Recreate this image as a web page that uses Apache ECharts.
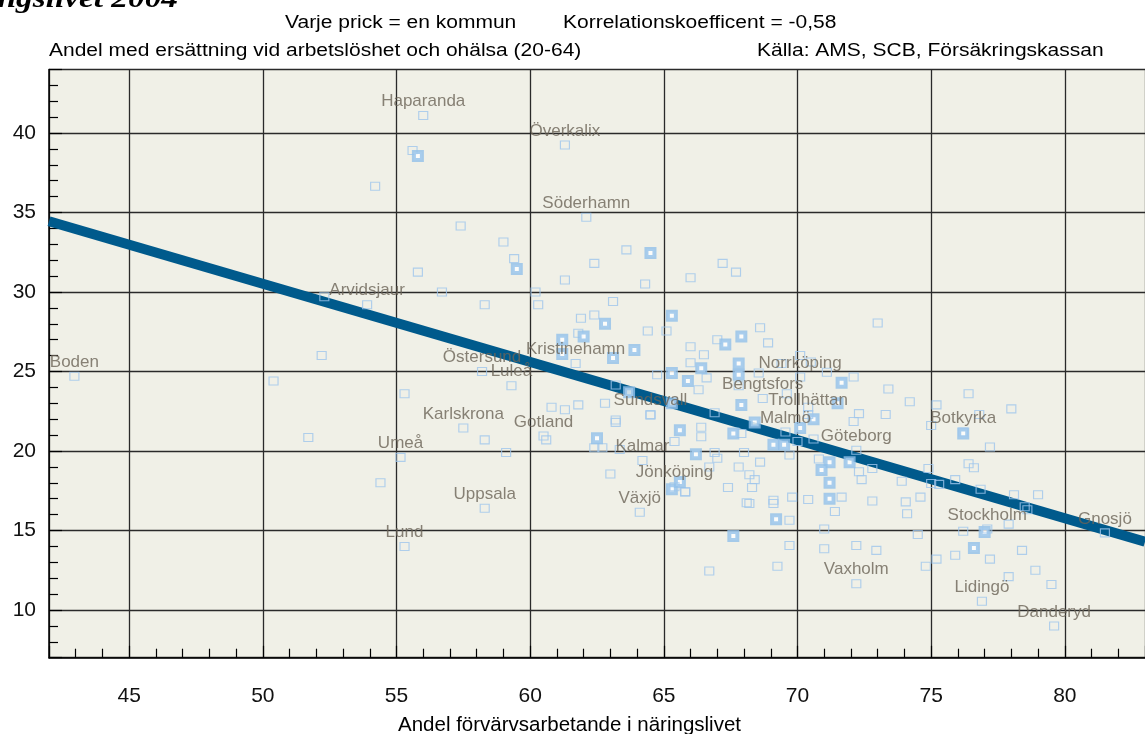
<!DOCTYPE html>
<html>
<head>
<meta charset="utf-8">
<title>Ersättning och förvärvsarbete i näringslivet 2004</title>
<script src="https://cdn.jsdelivr.net/npm/echarts@6.0.0/dist/echarts.min.js"></script>
<style>
  html, body { margin: 0; padding: 0; background: #fff; }
  #chart { width: 1145px; height: 734px; }
</style>
</head>
<body>
<div id="chart"></div>
<script>
// texter
const topTitle = 'näringslivet 2004';
const noteLeft = 'Varje prick = en kommun';
const noteRight = 'Korrelationskoefficent = -0,58';
const yTitle = 'Andel med ersättning vid arbetslöshet och ohälsa (20-64)';
const sourceText = 'Källa: AMS, SCB, Försäkringskassan';
const xTitle = 'Andel förvärvsarbetande i näringslivet';

// axlar
const xMin = 42, xMax = 83;
const yMin = 7, yMax = 44;

// regressionslinje
const trendX = [42, 83];
const trendY = [34.45, 14.3];

// namngivna kommuner
const cityNames = ['Haparanda', 'Överkalix', 'Söderhamn', 'Arvidsjaur', 'Boden', 'Kristinehamn', 'Östersund', 'Luleå',
  'Norrköping', 'Bengtsfors', 'Trollhättan', 'Sundsvall', 'Karlskrona', 'Gotland', 'Malmö', 'Botkyrka', 'Umeå',
  'Göteborg', 'Kalmar', 'Jönköping', 'Uppsala', 'Växjö', 'Lund', 'Stockholm', 'Gnosjö', 'Vaxholm', 'Lidingö', 'Danderyd'];
const cityX = [56.0, 61.3, 62.1, 53.9, 42.95, 61.7, 58.2, 59.3,
  70.1, 68.7, 70.4, 64.5, 57.5, 60.5, 69.55, 76.2, 55.15,
  72.2, 64.2, 65.4, 58.3, 64.1, 55.3, 77.1, 81.5, 72.2, 76.9, 79.6];
const cityY = [41.1, 39.25, 34.7, 29.2, 24.7, 25.5, 25.0, 24.1,
  24.65, 23.3, 22.3, 22.3, 21.45, 20.95, 21.2, 21.2, 19.6,
  20.05, 19.4, 17.75, 16.4, 16.15, 14.0, 15.1, 14.85, 11.65, 10.55, 9.0];

// markerade kommuner (större rutor)
const bigPoints = [
  [55.8, 38.55], [59.5, 31.45], [64.5, 32.45], [65.3, 28.5], [62.8, 28.0], [61.2, 27.0], [61.2, 26.1],
  [62.0, 27.2], [63.9, 26.35], [63.1, 25.85], [67.9, 27.2], [67.3, 26.7], [65.3, 24.9], [65.9, 24.4],
  [66.4, 25.2], [67.8, 25.5], [67.8, 24.8], [63.7, 23.7], [65.3, 23.0], [67.9, 22.9], [68.4, 21.8],
  [67.6, 21.1], [65.6, 21.3], [62.5, 20.8], [66.2, 19.8], [71.65, 24.3], [71.5, 23.0], [70.6, 22.0],
  [70.1, 21.45], [69.1, 20.4], [69.5, 20.4], [71.2, 19.3], [71.95, 19.3], [70.9, 18.8], [71.2, 18.0],
  [71.2, 17.0], [69.2, 15.7], [76.2, 21.1], [77.0, 14.9], [76.6, 13.9], [65.3, 17.6], [65.6, 18.05],
  [67.6, 14.65]
];

// övriga kommuner
const smallPoints = [
  [54.2, 36.65], [55.6, 38.9], [57.4, 34.15], [59.0, 33.15], [59.4, 32.1], [55.8, 31.25], [56.7, 30.0],
  [60.2, 30.0], [52.3, 29.7], [52.2, 26.0], [50.4, 24.4], [55.3, 23.6], [51.7, 20.85], [54.4, 18.0],
  [58.3, 29.2], [60.3, 29.2], [63.1, 29.4], [61.9, 28.35], [62.4, 28.55], [64.4, 27.55], [65.1, 27.55],
  [61.8, 27.4], [58.3, 20.7], [59.1, 19.9], [60.8, 22.75], [61.3, 22.6], [61.8, 22.9], [62.8, 23.0],
  [60.6, 20.7], [63.2, 21.8], [62.7, 20.2], [63.35, 20.1], [63.0, 18.55], [62.4, 31.8], [61.3, 30.75],
  [63.6, 32.65], [64.3, 30.5], [66.0, 30.9], [67.2, 31.8], [67.7, 31.25],
  [68.6, 27.75], [68.9, 26.8], [67.0, 27.0], [66.0, 26.55], [66.5, 26.05], [66.0, 25.55], [64.75, 24.8],
  [66.6, 24.6], [66.3, 23.85], [68.55, 24.9], [67.8, 24.1], [69.4, 25.5], [70.5, 25.6], [69.6, 23.6],
  [70.4, 22.75], [63.2, 24.15], [64.5, 22.25], [63.2, 21.95], [62.4, 20.2], [66.4, 21.5], [66.4, 20.9],
  [66.9, 22.4], [65.4, 20.6], [67.0, 19.55], [66.7, 19.0], [67.8, 19.0], [68.0, 19.9], [68.4, 18.2],
  [68.6, 19.3], [68.2, 18.5], [68.1, 16.75], [69.1, 16.9], [69.7, 15.65], [69.7, 14.05], [65.8, 17.45],
  [70.0, 20.6], [70.6, 20.75], [70.8, 19.5], [69.8, 17.1], [70.4, 16.95], [71.0, 15.1], [71.0, 13.85],
  [67.9, 21.1], [66.9, 19.9], [67.4, 17.7],
  [73.0, 28.05], [70.1, 26.0], [71.1, 24.95], [72.1, 24.65], [73.4, 23.9], [74.2, 23.1], [73.3, 22.3],
  [72.3, 22.35], [72.1, 21.85], [75.2, 22.9], [75.0, 21.6], [76.4, 23.6], [78.0, 22.65], [76.8, 22.3],
  [77.2, 20.25], [76.4, 19.2], [76.6, 18.95], [74.9, 18.9], [73.9, 18.1], [75.9, 18.2], [75.0, 17.95],
  [76.85, 17.6], [78.1, 17.25], [79.0, 17.25], [78.5, 16.5], [74.05, 16.8], [74.1, 16.05], [74.6, 17.1],
  [72.8, 16.85], [72.4, 18.2], [71.4, 16.2], [71.65, 17.1], [74.5, 14.75], [76.2, 14.95], [77.9, 15.4],
  [75.9, 13.45], [78.4, 13.75], [72.95, 13.75], [72.2, 14.05], [69.1, 16.7], [69.25, 12.75], [74.8, 12.75],
  [75.2, 13.2], [77.2, 13.2], [77.9, 12.1], [78.6, 16.3], [78.9, 12.5], [79.5, 11.6], [69.7, 19.75],
  [72.3, 18.7], [72.8, 18.9], [75.3, 17.9], [66.7, 12.45], [65.8, 17.4], [68.2, 16.7], [68.3, 17.7]
];

const chart = echarts.init(document.getElementById('chart'), null, { renderer: 'canvas' });

const sans = '"Liberation Sans", Arial, sans-serif';
const gridLeft = 49, gridTop = 69.4, gridWidth = 1110, gridHeight = 588.3;

function headText(text, x, y) {
  return {
    type: 'text', x: x, y: y, scaleX: 1.2, silent: true,
    style: {
      text: text, font: '17.5px ' + sans, fill: '#000',
      textAlign: 'left', align: 'left', textVerticalAlign: 'middle', verticalAlign: 'middle'
    }
  };
}

const option = {
  animation: false,
  backgroundColor: '#ffffff',
  grid: {
    left: gridLeft, top: gridTop, width: gridWidth, height: gridHeight,
    show: true, backgroundColor: '#f0f0e7', borderWidth: 0
  },
  xAxis: {
    type: 'value', min: xMin, max: xMax,
    splitNumber: 8, minInterval: 5, maxInterval: 5,
    axisLine: { show: true, onZero: false, lineStyle: { color: '#000', width: 1.5 } },
    axisTick: { show: true, inside: true, length: 12, lineStyle: { color: '#000', width: 1.2 } },
    minorTick: { show: true, splitNumber: 5, length: 9, lineStyle: { color: '#000', width: 1.2 } },
    splitLine: { show: true, lineStyle: { color: '#2a2a2a', width: 1.3 } },
    axisLabel: { fontSize: 21, fontFamily: sans, color: '#111', margin: 28, showMinLabel: false, showMaxLabel: false }
  },
  yAxis: {
    type: 'value', min: yMin, max: yMax,
    splitNumber: 8, minInterval: 5, maxInterval: 5,
    axisLine: { show: true, onZero: false, lineStyle: { color: '#000', width: 1.5 } },
    axisTick: { show: true, inside: true, length: 13, lineStyle: { color: '#000', width: 1.2 } },
    minorTick: { show: true, splitNumber: 5, length: 9, lineStyle: { color: '#000', width: 1.2 } },
    splitLine: { show: true, lineStyle: { color: '#2a2a2a', width: 1.3 } },
    axisLabel: { fontSize: 21, fontFamily: sans, color: '#111', margin: 13, showMinLabel: false, showMaxLabel: false }
  },
  graphic: [
    {
      type: 'text', x: 178, y: 0, scaleX: 1.19, silent: true,
      style: {
        text: topTitle, font: 'italic bold 28px "Liberation Serif", "Times New Roman", serif', fill: '#000',
        textAlign: 'right', align: 'right', textVerticalAlign: 'middle', verticalAlign: 'middle'
      }
    },
    headText(noteLeft, 285, 23),
    headText(noteRight, 563, 23),
    headText(yTitle, 49, 51),
    headText(sourceText, 757, 51),
    {
      type: 'text', x: 398, y: 725, silent: true,
      style: {
        text: xTitle, font: '20.5px ' + sans, fill: '#000',
        textAlign: 'left', align: 'left', textVerticalAlign: 'middle', verticalAlign: 'middle'
      }
    }
  ],
  series: [
    {
      name: 'Regression', type: 'line', silent: true, z: 2,
      data: trendX.map((x, i) => [x, trendY[i]]),
      symbol: 'none',
      lineStyle: { color: '#005a8c', width: 10 }
    },
    {
      name: 'Kommuner', type: 'scatter', silent: true, z: 3,
      data: smallPoints,
      symbol: 'rect', symbolSize: [9, 8],
      itemStyle: { color: 'rgba(0,0,0,0)', borderColor: '#9fc6ec', borderWidth: 1.1 }
    },
    {
      name: 'Markerade', type: 'scatter', silent: true, z: 4,
      data: bigPoints,
      symbol: 'rect', symbolSize: 8,
      itemStyle: { color: '#ffffff', borderColor: '#92c1ea', borderWidth: 4 }
    },
    {
      name: 'Namngivna', type: 'scatter', silent: true, z: 5,
      data: cityNames.map((n, i) => ({ name: n, value: [cityX[i], cityY[i]] })),
      symbol: 'rect', symbolSize: [9, 8],
      itemStyle: { color: 'rgba(0,0,0,0)', borderColor: '#9fc6ec', borderWidth: 1.1 },
      label: {
        show: true, position: 'top', distance: 1,
        formatter: p => p.name,
        fontSize: 17, fontFamily: sans, color: '#6b6457'
      }
    }
  ]
};

chart.setOption(option);
</script>
</body>
</html>
